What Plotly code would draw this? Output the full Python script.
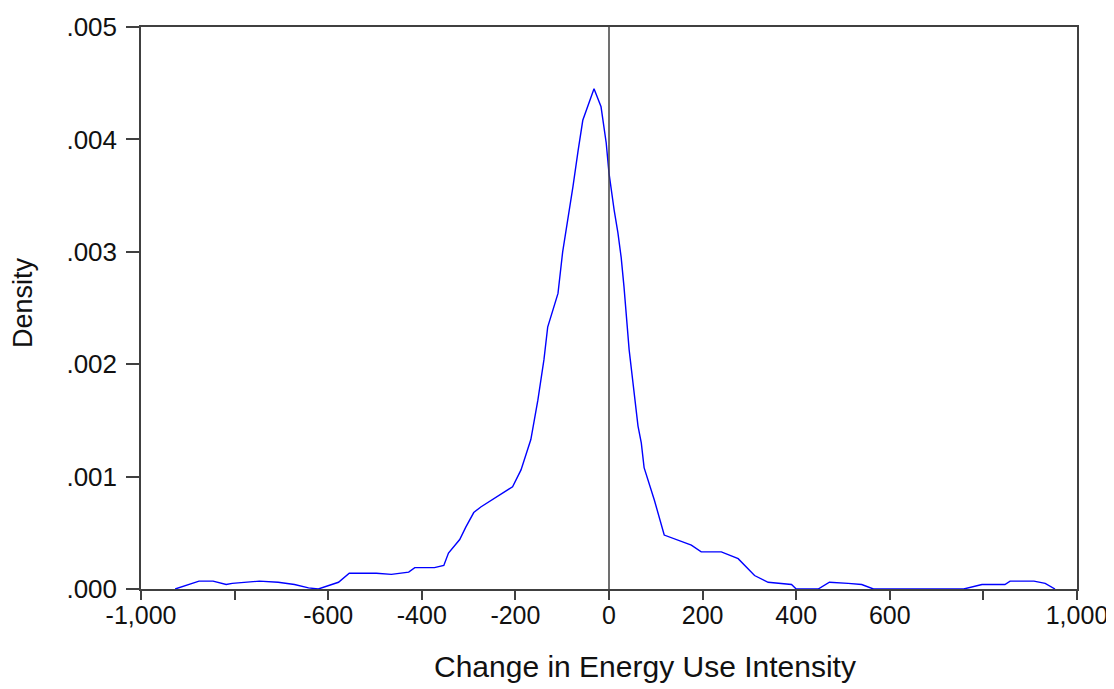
import plotly.graph_objects as go

# Kernel density curve
eui_change = [-927, -876, -846, -818, -805, -747, -707, -672, -642, -621, -578, -555,
              -497, -465, -428, -415, -373, -353, -343, -319, -306, -289, -274, -231,
              -206, -188, -167, -152, -139, -131, -109, -99, -88, -77, -66, -56, -32,
              -17, -6, 0, 11, 19, 26, 32, 43, 54, 62, 69, 75, 97, 118, 176, 197, 240,
              276, 311, 340, 390, 400, 447, 471, 511, 540, 565, 758, 797, 846, 857,
              908, 932, 953]
density_e3 = [0.0, 0.07, 0.07, 0.04, 0.05, 0.07, 0.06, 0.04, 0.01, 0.0, 0.06, 0.14,
              0.14, 0.13, 0.15, 0.19, 0.19, 0.21, 0.32, 0.44, 0.55, 0.68, 0.73, 0.84,
              0.91, 1.06, 1.33, 1.68, 2.04, 2.33, 2.63, 3.0, 3.28, 3.58, 3.9, 4.17, 4.45,
              4.29, 3.97, 3.7, 3.37, 3.17, 2.95, 2.69, 2.13, 1.72, 1.45, 1.3, 1.08, 0.79,
              0.48, 0.39, 0.33, 0.33, 0.27, 0.12, 0.06, 0.04, 0.0, 0.0, 0.06, 0.05,
              0.04, 0.0, 0.0, 0.04, 0.04, 0.07, 0.07, 0.05, 0.0]
density = [v / 1000 for v in density_e3]

x_tickvals = [-1000, -800, -600, -400, -200, 0, 200, 400, 600, 800, 1000]
x_ticktext = ["-1,000", "", "-600", "-400", "-200", "0", "200", "400", "600", "", "1,000"]
y_tickvals = [0, 0.001, 0.002, 0.003, 0.004, 0.005]
y_ticktext = [".000", ".001", ".002", ".003", ".004", ".005"]

x_title = "Change in Energy Use Intensity"
y_title = "Density"

FONT = "Liberation Sans, Arial, sans-serif"
AXC = "#404040"
TXT = "#111111"

OFF = 8  # page body margin offset
W, H = 1114 - OFF, 689 - OFF
L, T = 141 - OFF, 27 - OFF
R = W - (1077 - OFF)
B = H - (589 - OFF)
plot_w = W - L - R
plot_h = H - T - B

fig = go.Figure()
fig.add_trace(go.Scatter(x=eui_change, y=density, mode="lines",
                         line=dict(color="#0000FF", width=1.4), showlegend=False,
                         hoverinfo="x+y"))

fig.add_shape(type="line", x0=0, x1=0, xref="x", y0=0, y1=1, yref="paper",
              line=dict(color=AXC, width=1.5), layer="above")

fig.update_layout(
    width=W, height=H,
    margin=dict(l=L, r=R, t=T, b=B, autoexpand=False),
    paper_bgcolor="white", plot_bgcolor="white",
    font=dict(family=FONT, size=25, color=TXT),
    xaxis=dict(range=[-1000, 1000], tickvals=x_tickvals, ticktext=x_ticktext,
               showgrid=False, zeroline=False, showline=True, linecolor=AXC,
               linewidth=1.5, mirror=True, ticks="outside", ticklen=9,
               tickwidth=1.5, tickcolor=AXC, ticklabelstandoff=-6, automargin=False,
               tickfont=dict(size=25, family=FONT, color=TXT)),
    yaxis=dict(range=[0, 0.005], tickvals=y_tickvals, ticktext=y_ticktext,
               showgrid=False, zeroline=False, showline=True, linecolor=AXC,
               linewidth=1.5, mirror=True, ticks="outside", ticklen=13,
               tickwidth=1.5, tickcolor=AXC, ticklabelstandoff=4, automargin=False,
               tickfont=dict(size=26, family=FONT, color=TXT)),
)

fig.add_annotation(text=x_title, xref="paper", yref="paper",
                   x=(645 - 141) / plot_w, y=(589 - 667) / plot_h,
                   xanchor="center", yanchor="middle", showarrow=False,
                   font=dict(size=30, family=FONT, color=TXT))
fig.add_annotation(text=y_title, xref="paper", yref="paper",
                   x=(23 - 141) / plot_w, y=(589 - 303) / plot_h,
                   xanchor="center", yanchor="middle", textangle=-90,
                   showarrow=False,
                   font=dict(size=27, family=FONT, color=TXT))

fig.write_html("out.html")
